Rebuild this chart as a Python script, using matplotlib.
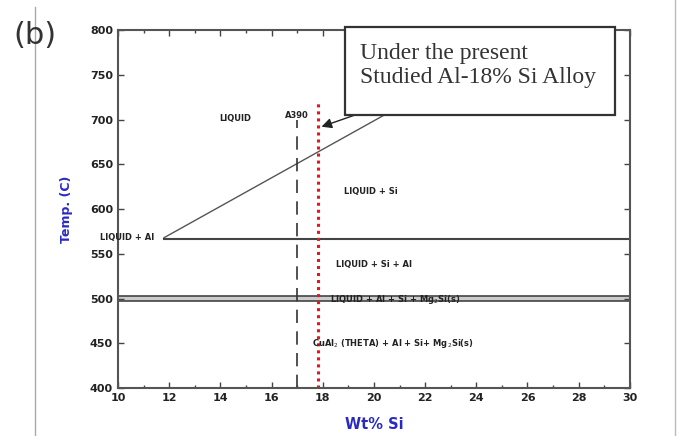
import matplotlib
matplotlib.use("Agg")
import matplotlib.pyplot as plt
from matplotlib.lines import Line2D
from matplotlib.patches import Rectangle

# ---- data ----
liquidus_x = [11.8, 20.4]
liquidus_T = [568, 705]
eutectic_x = [11.8, 30.0]
eutectic_T = [567, 567]
quat_upper_T = 503
quat_lower_T = 497
quat_x = [10.0, 30.0]
a390_x = 17.0
a390_T = [400, 700]
studied_x = 17.8
studied_T = [400, 722]
arrow_tip = (17.85, 691)
arrow_tail = (19.35, 706)

x_ticks = [10, 12, 14, 16, 18, 20, 22, 24, 26, 28, 30]
y_ticks = [400, 450, 500, 550, 600, 650, 700, 750, 800]

phase_labels = [
    ("LIQUID", 14.6, 701),
    ("A390", 17.0, 705),
    ("LIQUID + Si", 19.9, 620),
    ("LIQUID + Al", 10.35, 568),
    ("LIQUID + Si + Al", 20.0, 538),
    ("LIQUID + Al + Si + Mg$_2$Si(s)", 18.3, 499),
    ("CuAl$_2$ (THETA) + Al + Si+ Mg$_2$Si(s)", 17.6, 450),
]

fig = plt.figure(figsize=(6.78, 4.36), dpi=100)
ax = fig.add_axes([0.174, 0.110, 0.755, 0.821])
ax.set_xlim(10, 30)
ax.set_ylim(400, 800)

# lines
ax.plot(liquidus_x, liquidus_T, color="#555555", lw=1.0)
ax.plot(eutectic_x, eutectic_T, color="#444444", lw=1.5)
ax.fill_between(quat_x, quat_lower_T, quat_upper_T, color="#cccccc", lw=0)
ax.plot(quat_x, [quat_upper_T] * 2, color="#444444", lw=1.2)
ax.plot(quat_x, [quat_lower_T] * 2, color="#444444", lw=1.2)
ax.plot([a390_x] * 2, a390_T, color="#333333", lw=1.2, ls=(0, (8, 5)))
ax.plot([studied_x] * 2, studied_T, color="#e8141e", lw=2.2, ls=(0, (1, 1.3)))

ax.annotate("", xy=arrow_tip, xytext=arrow_tail,
            arrowprops=dict(arrowstyle="-|>", color="#222222", lw=1.0,
                            mutation_scale=15))

for txt, x, y in phase_labels:
    ha = "center"
    if txt.startswith("LIQUID + Al +") or txt.startswith("CuAl"):
        ha = "left"
    ax.text(x, y, txt, fontsize=6, fontweight="bold", color="#222222",
            ha=ha, va="center")

# text box
box = Rectangle((18.87, 705.6), 10.54, 97.7, fc="white", ec="#333333", lw=1.6,
                clip_on=False, zorder=5)
ax.add_patch(box)
ax.text(19.45, 786, "Under the present\nStudied Al-18% Si Alloy",
        family="Liberation Serif", fontsize=17, color="#333333",
        ha="left", va="top", linespacing=1.2, zorder=6, clip_on=False)

ax.set_xticks(x_ticks)
ax.set_xticks([x + 1 for x in x_ticks[:-1]], minor=True)
ax.set_yticks(y_ticks)
ax.tick_params(axis="both", which="both", direction="in", top=True, right=True,
               colors="#444444", labelcolor="#222222", labelsize=8)
ax.tick_params(which="major", length=4, width=1)
ax.tick_params(which="minor", length=2, width=1)
for lab in ax.get_xticklabels() + ax.get_yticklabels():
    lab.set_fontweight("bold")
for s in ax.spines.values():
    s.set_color("#555555")
    s.set_linewidth(1.5)

ax.set_xlabel("Wt% Si", color="#2a2ac0", fontsize=10.5, fontweight="bold", labelpad=10)
ax.set_ylabel("Temp. (C)", color="#2a2ac0", fontsize=9, fontweight="bold", labelpad=12)

fig.text(0.052, 0.918, "(b)", fontsize=22, color="#333333", ha="center", va="center")
fig.add_artist(Line2D([35 / 678] * 2, [0, 0.985], color="#aaaaaa", lw=1))
fig.add_artist(Line2D([675 / 678] * 2, [0, 1], color="#bbbbbb", lw=1))

fig.savefig("out.png", dpi=100)
